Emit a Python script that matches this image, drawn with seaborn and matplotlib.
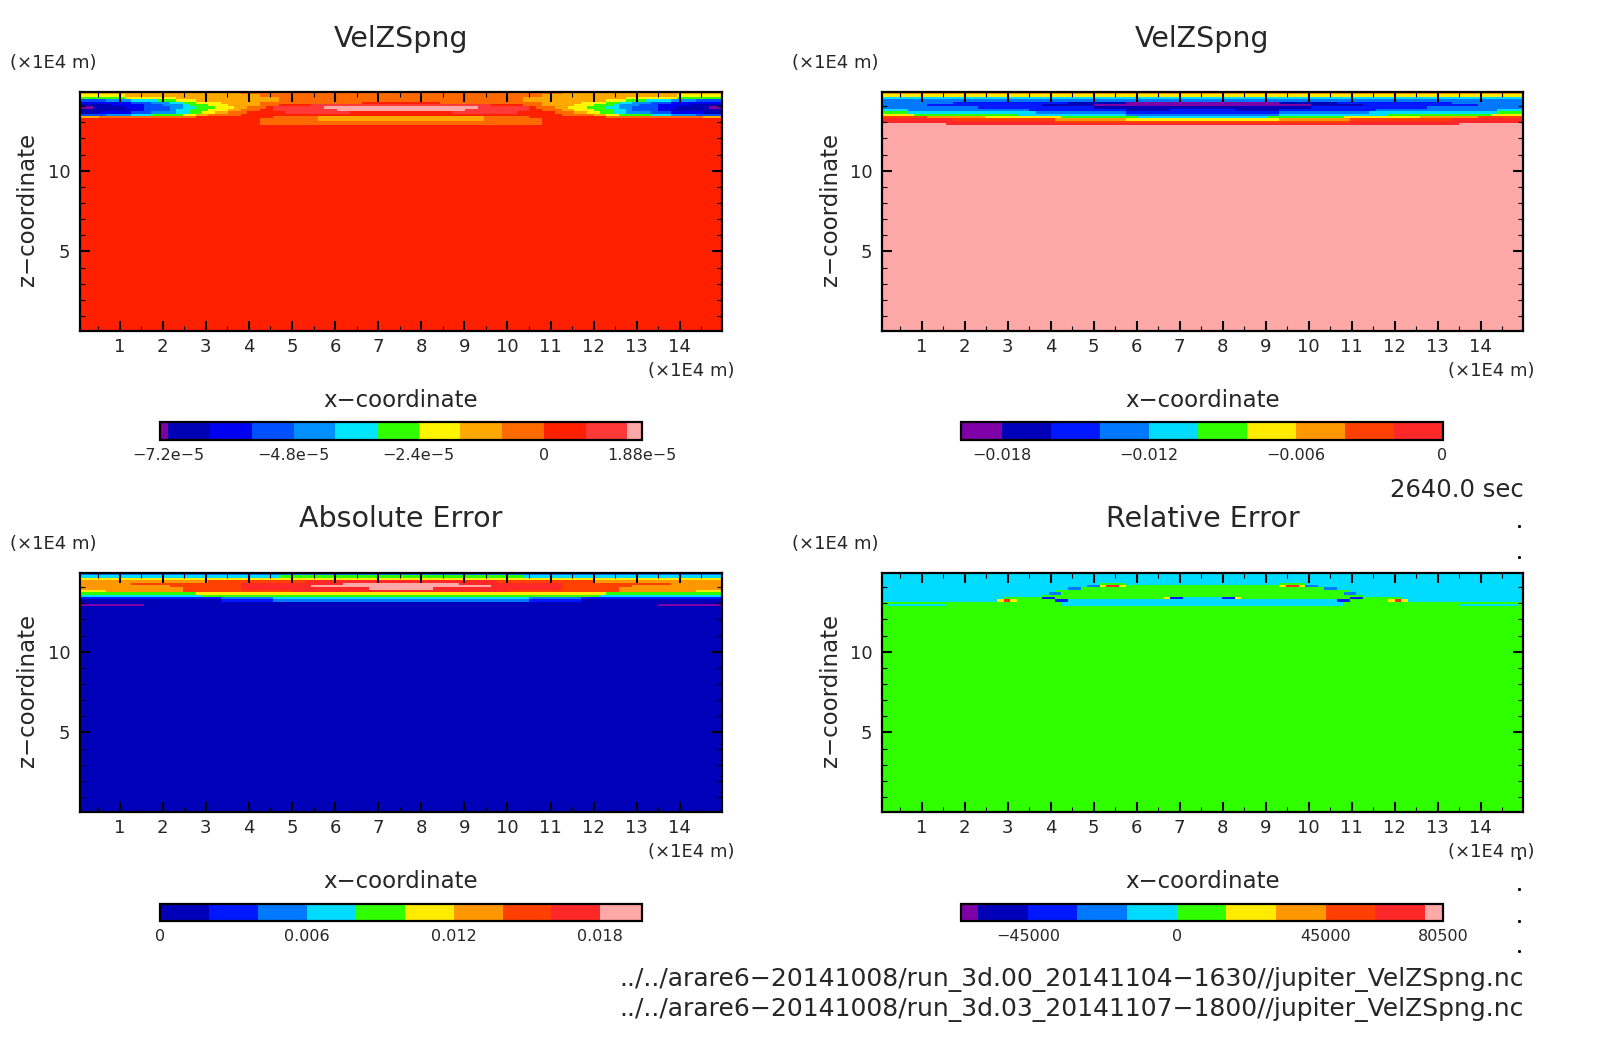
"""
plot.py — four panel VelZSpng comparison (model A, model B, absolute and relative error)

Each panel is a 100 x 100 grid of contour-level indices. Only the top rows differ
from the background, so those rows are kept as run lists, left half only
("level:end_col" pairs, last run goes to the centre) and mirrored.
"""

import numpy as np
import matplotlib
matplotlib.use("Agg")
import matplotlib.pyplot as plt
import seaborn as sns
from matplotlib.cm import ScalarMappable
from matplotlib.colors import BoundaryNorm, ListedColormap
from matplotlib.lines import Line2D

WIDTH, HEIGHT = 1604, 1054
N_GRID = 100

X_RANGE = (0.08, 14.98)
Z_RANGE = (0.08, 14.87)
X_TICKS = list(range(1, 15))
Z_TICKS = [5, 10]
Z_MINOR = list(range(1, 15))

# level colours, lowest first
COLORS_13 = ["#8000A0", "#0000B4", "#0000F0", "#0050FF", "#0090FF", "#00E6FF", "#30FF00",
             "#FFF500", "#FFA800", "#FF6A00", "#FF2000", "#FF3838", "#FFA8A8"]
COLORS_11 = ["#8000A8", "#0000B8", "#0018FF", "#0078FF", "#00DCFF", "#30FF00",
             "#FFEB00", "#FF9800", "#FF4000", "#FF2828", "#FFA8A8"]

# levels: 0-9 then a=10, b=11, c=12
VEL_A_ROWS = [
    "8:25 9",
    "7:7 8:28 9",
    "6:7 7:15 8:31 9",
    "3:4 4:8 5:12 6:15 7:18 8:31 9",
    "2:8 3:11 4:14 5:16 6:18 7:22 8:28 9:44 a",
    "1:5 2:10 3:13 4:16 5:17 6:20 7:23 8:28 9:31 a:36 b",
    "0:2 1:7 2:10 3:14 4:16 5:18 6:21 7:24 8:26 9:29 a:30 b:38 c",
    "1:8 2:10 3:14 4:15 5:17 6:20 7:23 8:25 9:28 a:30 b:40 c",
    "1:3 2:8 3:11 4:15 5:17 6:19 7:21 8:23 9:26 a:32 b:42 a",
    "3:4 4:8 5:11 6:16 7:18 8:20 9:25 a",
    "8:3 9:18 a:30 9:37 8",
    "a:28 9:37 8",
    "a:28 9",
    "a:28 9",
]
VEL_A_BACKGROUND = 10

VEL_B_ROWS = [
    "7",
    "6",
    "4",
    "3",
    "3:11 2:29 1:38 0",
    "3:7 2:25 1:33 0",
    "3:15 2:33 1",
    "4:4 3:23 2:38 1:45 2",
    "5:4 4:24 3:38 2",
    "6:5 5:21 4:38 3",
    "8:7 7:16 6:28 5:40 4",
    "9:11 8:27 7:38 6",
    "9:27 8",
    "a:10 9",
]
VEL_B_BACKGROUND = 10

ABS_ERR_ROWS = [
    "3",
    "4:31 5",
    "6",
    "7:20 8:35 9",
    "7:8 8:25 9:41 a",
    "7:14 8:25 9:36 a",
    "7:16 8:25 9:45 a",
    "6:4 7:16 8:33 9",
    "5:18 6",
    "4:19 5",
    "2:22 3:30 4",
    "1:22 2:30 3",
    "1",
    "0:10 1",
]
ABS_ERR_BACKGROUND = 1

REL_ERR_ROWS = [
    "4",
    "4",
    "4",
    "4",
    "4:34 5:38 4",
    "4:32 3:34 6:35 9:37 6:38 5",
    "4:29 3:31 5",
    "4:27 5",
    "4:26 3:28 5",
    "4:25 5",
    "4:19 5:25 2:27 5:44 6:45 2:47 4",
    "4:18 6:19 9:20 6:21 5:27 2:29 4",
    "5:28 4",
    "5:1 4:10 5:28 4",
]
REL_ERR_BACKGROUND = 5

# colourbars
BOUNDS_A = [-7.36e-5, -7.2e-5, -6.4e-5, -5.6e-5, -4.8e-5, -4.0e-5, -3.2e-5, -2.4e-5,
            -1.6e-5, -0.8e-5, 0.0, 0.8e-5, 1.6e-5, 1.88e-5]
TICKS_A = [-7.2e-5, -4.8e-5, -2.4e-5, 0.0, 1.88e-5]
LABELS_A = ["−7.2e−5", "−4.8e−5", "−2.4e−5", "0", "1.88e−5"]

BOUNDS_B = [-0.01967, -0.018, -0.016, -0.014, -0.012, -0.010, -0.008, -0.006, -0.004,
            -0.002, 0.0, 0.00002]
TICKS_B = [-0.018, -0.012, -0.006, 0.0]
LABELS_B = ["−0.018", "−0.012", "−0.006", "0"]

BOUNDS_ABS = [0.0, 0.002, 0.004, 0.006, 0.008, 0.010, 0.012, 0.014, 0.016, 0.018, 0.0197]
TICKS_ABS = [0.0, 0.006, 0.012, 0.018]
LABELS_ABS = ["0", "0.006", "0.012", "0.018"]

BOUNDS_REL = [-65200, -60000, -45000, -30000, -15000, 0, 15000, 30000, 45000, 60000,
              75000, 80500]
TICKS_REL = [-45000, 0, 45000, 80500]
LABELS_REL = ["−45000", "0", "45000", "80500"]

TIME_LABEL = "2640.0 sec"
FILE_LABELS = [
    "../../arare6−20141008/run_3d.00_20141104−1630//jupiter_VelZSpng.nc",
    "../../arare6−20141008/run_3d.03_20141107−1800//jupiter_VelZSpng.nc",
]
UNIT_LABEL = "(×1E4 m)"


def px_x(x):
    return x / WIDTH


def px_y(y):
    return 1 - y / HEIGHT


def add_axes_px(fig, left, top, right, bottom):
    """Axes from pixel edges of the final image."""
    return fig.add_axes([px_x(left), px_y(bottom), (right - left) / WIDTH, (bottom - top) / HEIGHT])


def build_field(rows, background):
    """Expand the run lists into the full grid of level indices."""
    half = N_GRID // 2
    field = np.full((N_GRID, N_GRID), background, dtype=int)
    for i, row in enumerate(rows):
        start = 0
        for run in row.split():
            level, _, end = run.partition(":")
            end = int(end) if end else half
            field[i, start:end] = int(level, 16)
            start = end
        field[i, half:] = field[i, :half][::-1]
    return field


def draw_panel(fig, field, colors, box, title, title_y, unit_x):
    left, top, right, bottom = box
    ax = add_axes_px(fig, left, top, right, bottom)
    sns.heatmap(
        field, cmap=ListedColormap(colors), vmin=-0.5, vmax=len(colors) - 0.5,
        cbar=False, xticklabels=False, yticklabels=False, ax=ax,
    )

    # heatmap works in cell indices, convert the physical ticks
    dx = (X_RANGE[1] - X_RANGE[0]) / N_GRID
    dz = (Z_RANGE[1] - Z_RANGE[0]) / N_GRID
    to_col = lambda v: (np.asarray(v, dtype=float) - X_RANGE[0]) / dx
    to_row = lambda v: (Z_RANGE[1] - np.asarray(v, dtype=float)) / dz

    ax.set_xticks(to_col(X_TICKS))
    ax.set_xticklabels([str(v) for v in X_TICKS], fontsize=13)
    ax.set_xticks(to_col([v + 0.5 for v in range(0, 15)]), minor=True)
    ax.set_yticks(to_row(Z_TICKS))
    ax.set_yticklabels([str(v) for v in Z_TICKS], fontsize=13, rotation=0)
    ax.set_yticks(to_row([v for v in Z_MINOR if v not in Z_TICKS]), minor=True)

    # seaborn's style puts ticks under the mesh otherwise
    ax.set_axisbelow(False)
    ax.tick_params(which="major", direction="in", length=7, width=1.5, top=True, right=True,
                   bottom=True, left=True, color="black")
    ax.tick_params(axis="x", which="major", pad=5)
    ax.tick_params(axis="y", which="major", pad=7)
    ax.tick_params(which="minor", direction="in", length=3.5, width=0.8, top=True, right=True,
                   bottom=True, left=True, color="black")
    for spine in ax.spines.values():
        spine.set_visible(True)
        spine.set_linewidth(1.6)
        spine.set_color("black")

    center = (left + right) / 2
    fig.text(px_x(center), px_y(title_y), title, ha="center", va="center", fontsize=20.5)
    fig.text(px_x(unit_x), px_y(top - 29), UNIT_LABEL, ha="left", va="center", fontsize=13)
    fig.text(px_x(right + 12), px_y(bottom + 40), UNIT_LABEL, ha="right", va="center", fontsize=13)
    fig.text(px_x(center), px_y(bottom + 70), "x−coordinate", ha="center", va="center", fontsize=16.5)
    fig.text(px_x(left - 52), px_y((top + bottom) / 2 - 2), "z−coordinate", ha="center", va="center",
             rotation=90, fontsize=16.5)
    return ax


def draw_colorbar(fig, colors, bounds, ticks, labels, box):
    cax = add_axes_px(fig, *box)
    norm = BoundaryNorm(bounds, len(colors))
    sm = ScalarMappable(norm=norm, cmap=ListedColormap(colors))
    cb = fig.colorbar(sm, cax=cax, orientation="horizontal", spacing="proportional", ticks=ticks)
    cb.ax.set_xticklabels(labels, fontsize=11.5)
    cb.ax.tick_params(length=0, pad=6)
    cb.ax.minorticks_off()
    cb.outline.set_linewidth(1.6)
    cb.outline.set_edgecolor("black")


def main():
    sns.set_theme(style="white")
    plt.rcParams["font.family"] = ["DejaVu Sans"]

    fig = plt.figure(figsize=(WIDTH / 100, HEIGHT / 100), dpi=100, facecolor="white")

    # ---- Panels ------------------------------------------------------------
    draw_panel(fig, build_field(VEL_A_ROWS, VEL_A_BACKGROUND), COLORS_13,
               (80, 92, 722, 331), "VelZSpng", 39, 10)
    draw_panel(fig, build_field(VEL_B_ROWS, VEL_B_BACKGROUND), COLORS_11,
               (882, 92, 1523, 331), "VelZSpng", 39, 792)
    draw_panel(fig, build_field(ABS_ERR_ROWS, ABS_ERR_BACKGROUND), COLORS_11,
               (80, 573, 722, 812), "Absolute Error", 519, 10)
    draw_panel(fig, build_field(REL_ERR_ROWS, REL_ERR_BACKGROUND), COLORS_11,
               (882, 573, 1523, 812), "Relative Error", 519, 792)

    # ---- Colourbars --------------------------------------------------------
    draw_colorbar(fig, COLORS_13, BOUNDS_A, TICKS_A, LABELS_A, (160, 422, 642, 440))
    draw_colorbar(fig, COLORS_11[:10] + [COLORS_11[9]], BOUNDS_B, TICKS_B, LABELS_B, (961, 422, 1443, 440))
    draw_colorbar(fig, COLORS_11[1:], BOUNDS_ABS, TICKS_ABS, LABELS_ABS, (160, 904, 642, 921))
    draw_colorbar(fig, COLORS_11, BOUNDS_REL, TICKS_REL, LABELS_REL, (961, 904, 1443, 921))

    # ---- Annotations -------------------------------------------------------
    fig.text(px_x(1524), px_y(490), TIME_LABEL, ha="right", va="center", fontsize=17.5)
    for label, y in zip(FILE_LABELS, [979, 1009]):
        fig.text(px_x(1524), px_y(y), label, ha="right", va="center", fontsize=18)
    for y in [526, 557, 858, 889, 921, 951]:
        fig.add_artist(Line2D([px_x(1519)], [px_y(y)], marker="s", markersize=1.1, color="black",
                              transform=fig.transFigure))

    fig.savefig("out.png", dpi=100, facecolor="white")


if __name__ == "__main__":
    main()
